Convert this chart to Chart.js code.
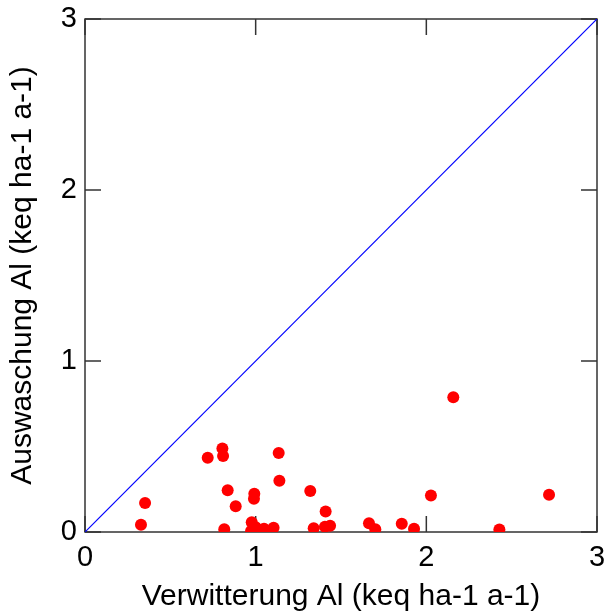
<!DOCTYPE html>
<html>
<head>
<meta charset="utf-8">
<title>Verwitterung vs Auswaschung Al</title>
<script src="https://cdn.jsdelivr.net/npm/chart.js"></script>
<style>
  html, body { margin: 0; padding: 0; background: #fff; }
  canvas { display: block; }
</style>
</head>
<body>
<canvas id="myChart" width="606" height="615"></canvas>
<script>
// Al weathering (x) against Al leaching (y), keq ha-1 a-1
var verwitterung = [0.328, 0.352, 0.719, 0.805, 0.809, 0.816, 0.836, 0.883, 0.977, 0.973,
    0.992, 0.990, 1.000, 1.049, 1.105, 1.135, 1.139, 1.320, 1.340, 1.406,
    1.410, 1.436, 1.664, 1.701, 1.856, 1.928, 2.027, 2.158, 2.428, 2.719];
var auswaschung = [0.043, 0.169, 0.434, 0.489, 0.444, 0.016, 0.244, 0.150, 0.057, 0.006,
    0.224, 0.195, 0.028, 0.019, 0.025, 0.462, 0.300, 0.240, 0.022, 0.031,
    0.120, 0.036, 0.051, 0.016, 0.048, 0.019, 0.214, 0.788, 0.014, 0.218];
var tickValues = [0, 1, 2, 3];
var lineEnds = [0, 3];

var points = verwitterung.map(function (v, i) { return {x: v, y: auswaschung[i]}; });
var diagonal = lineEnds.map(function (v) { return {x: v, y: v}; });

// box around the plot with inward ticks on all four sides
var boxTicks = {
    id: 'boxTicks',
    beforeDatasetsDraw: function (chart) {
        var ctx = chart.ctx;
        var a = chart.chartArea;
        var xs = chart.scales.x, ys = chart.scales.y;
        var len = 16;
        ctx.save();
        ctx.strokeStyle = '#333';
        ctx.lineWidth = 1.5;
        ctx.strokeRect(a.left, a.top, a.right - a.left, a.bottom - a.top);
        ctx.beginPath();
        tickValues.forEach(function (t) {
            var px = xs.getPixelForValue(t);
            var py = ys.getPixelForValue(t);
            ctx.moveTo(px, a.bottom); ctx.lineTo(px, a.bottom - len);
            ctx.moveTo(px, a.top); ctx.lineTo(px, a.top + len);
            ctx.moveTo(a.left, py); ctx.lineTo(a.left + len, py);
            ctx.moveTo(a.right, py); ctx.lineTo(a.right - len, py);
        });
        ctx.stroke();
        ctx.restore();
    }
};

function noPad(scale) {
    scale.paddingLeft = 0;
    scale.paddingRight = 0;
    scale.paddingTop = 0;
    scale.paddingBottom = 0;
}

var fontFamily = '"Liberation Sans", Arial, Helvetica, sans-serif';

new Chart('myChart', {
    type: 'scatter',
    data: {
        datasets: [{
            type: 'line',
            data: diagonal,
            borderColor: '#0000ff',
            borderWidth: 1.2,
            pointRadius: 0,
            fill: false
        }, {
            data: points,
            backgroundColor: '#ff0000',
            borderWidth: 0,
            pointRadius: 6,
            pointHoverRadius: 6
        }]
    },
    plugins: [boxTicks],
    options: {
        responsive: false,
        animation: false,
        events: [],
        layout: { padding: { top: 19, right: 9, left: 0, bottom: 0 } },
        plugins: {
            legend: { display: false },
            tooltip: { enabled: false }
        },
        scales: {
            x: {
                type: 'linear',
                min: 0,
                max: 3,
                afterBuildTicks: function (s) { s.ticks = tickValues.map(function (v) { return {value: v}; }); },
                afterFit: function (s) { s.height = 83; noPad(s); },
                grid: { display: false, drawTicks: false },
                border: { display: false },
                ticks: {
                    color: '#000',
                    padding: 9,
                    maxRotation: 0,
                    font: { family: fontFamily, size: 29 }
                },
                title: {
                    display: true,
                    text: 'Verwitterung Al (keq ha-1 a-1)',
                    color: '#000',
                    padding: { top: 0, bottom: 0 },
                    font: { family: fontFamily, size: 30 }
                }
            },
            y: {
                type: 'linear',
                min: 0,
                max: 3,
                afterBuildTicks: function (s) { s.ticks = tickValues.map(function (v) { return {value: v}; }); },
                afterFit: function (s) { s.width = 85; noPad(s); },
                grid: { display: false, drawTicks: false },
                border: { display: false },
                ticks: {
                    color: '#000',
                    padding: 8,
                    font: { family: fontFamily, size: 29 }
                },
                title: {
                    display: true,
                    text: 'Auswaschung Al (keq ha-1 a-1)',
                    color: '#000',
                    padding: { top: 5, bottom: 0 },
                    font: { family: fontFamily, size: 30 }
                }
            }
        }
    }
});
</script>
</body>
</html>
